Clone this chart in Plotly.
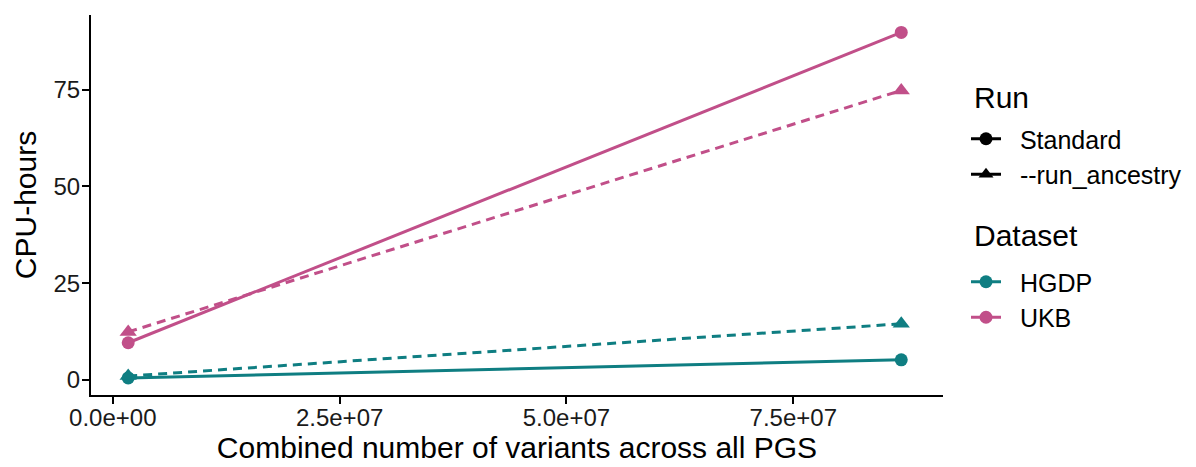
import plotly.graph_objects as go

# Combined number of variants across all PGS for each dataset (x)
variants = [1.7e6, 8.69e7]

# CPU-hours per dataset and run type
hgdp_standard = [0.5, 5.2]
hgdp_ancestry = [1.0, 14.5]
ukb_standard = [9.6, 89.8]
ukb_ancestry = [12.4, 74.8]

x_ticks = [0, 2.5e7, 5.0e7, 7.5e7]
x_tick_labels = ["0.0e+00", "2.5e+07", "5.0e+07", "7.5e+07"]
y_ticks = [0, 25, 50, 75]

TEAL = "#0f7e82"
PINK = "#c14f89"
FONT = "Liberation Sans, Arial, sans-serif"
W, H = 1196, 467

fig = go.Figure()

series = [
    (hgdp_standard, TEAL, "solid", "circle"),
    (hgdp_ancestry, TEAL, "9px,6px", "triangle-up"),
    (ukb_standard, PINK, "solid", "circle"),
    (ukb_ancestry, PINK, "9px,6px", "triangle-up"),
]
for ys, color, dash, symbol in series:
    fig.add_trace(go.Scatter(
        x=variants, y=ys, mode="lines+markers",
        line=dict(color=color, width=3, dash=dash),
        marker=dict(color=color, size=13 if symbol == "circle" else 15, symbol=symbol),
        showlegend=False, hoverinfo="skip",
    ))

# Legend keys: run type (shape) in one legend, dataset (colour) in another
NB = "\u00a0\u00a0"
legend_keys = [
    ("legend", "Standard", "black", "circle"),
    ("legend", "--run_ancestry", "black", "triangle-up"),
    ("legend2", "HGDP", TEAL, "circle"),
    ("legend2", "UKB", PINK, "circle"),
]
for legend_id, name, color, symbol in legend_keys:
    fig.add_trace(go.Scatter(
        x=[None], y=[None], mode="lines+markers", name=NB + name,
        legend=legend_id,
        line=dict(color=color, width=3),
        marker=dict(color=color, size=13, symbol=symbol),
    ))

axis_common = dict(
    showline=True, linecolor="black", linewidth=2,
    ticks="outside", ticklen=7, tickwidth=2, tickcolor="black",
    showgrid=False, zeroline=False, automargin=False,
    tickfont=dict(size=24, color="#1a1a1a", family=FONT),
    title_font=dict(size=30, color="black", family=FONT),
)

fig.update_xaxes(
    range=[-2.4e6, 9.15e7], tickvals=x_ticks, ticktext=x_tick_labels,
    ticklabelstandoff=-7,
    title_text="Combined number of variants across all PGS", title_standoff=2,
    **axis_common,
)
fig.update_yaxes(
    range=[-3.9, 94.3], tickvals=y_ticks, ticklabelstandoff=-3,
    title_text="CPU-hours", title_standoff=8,
    **axis_common,
)

legend_common = dict(
    xref="container", yref="container", xanchor="left", yanchor="top",
    x=966 / W,
    font=dict(size=25, color="black", family=FONT),
    itemwidth=30, bgcolor="rgba(0,0,0,0)",
)

# Legend titles
for text, y_px in [("Run", 97), ("Dataset", 236)]:
    fig.add_annotation(
        text=text, xref="paper", yref="paper",
        x=(972 - 91) / 852, y=(395 - y_px) / 380,
        xanchor="left", yanchor="middle", showarrow=False,
        font=dict(size=30, color="black", family=FONT),
    )

fig.update_layout(
    width=W, height=H,
    margin=dict(l=91, r=253, t=15, b=72),
    plot_bgcolor="white", paper_bgcolor="white",
    font=dict(family=FONT, color="black"),
    legend=dict(y=1 - 116 / H, **legend_common),
    legend2=dict(y=1 - 259 / H, **legend_common),
)

fig.write_html("out.html")
